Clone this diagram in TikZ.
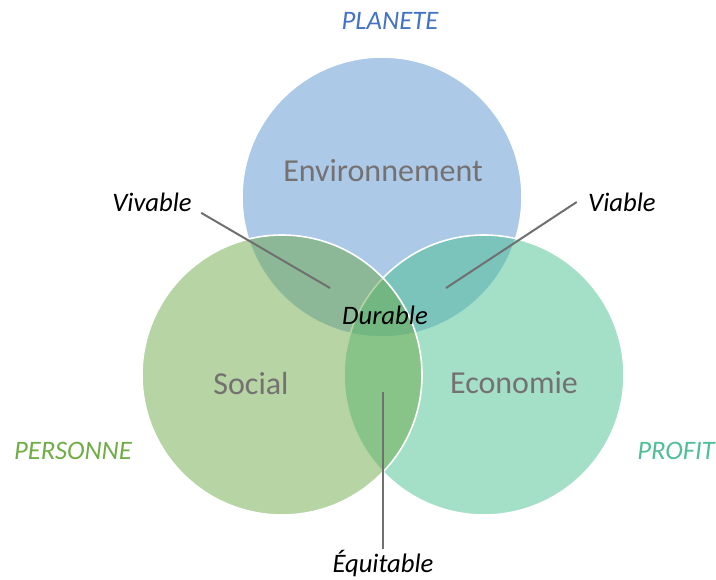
\documentclass[tikz,border=0pt]{standalone}
\usepackage{fontspec}
\setmainfont{Carlito}
\definecolor{bleuCercle}{RGB}{89,147,209}
\definecolor{vertCercle}{RGB}{109,169,73}
\definecolor{tealCercle}{RGB}{73,193,145}
\definecolor{grisTexte}{RGB}{118,113,113}
\definecolor{grisTrait}{RGB}{112,112,112}
\tikzset{every picture/.style={line width=0.75pt}}
\tikzset{
  cercle/.style={circle, draw=white, line width=1.2pt, fill opacity=0.5, minimum size=210pt, inner sep=0pt},
  titreCercle/.style={inner sep=0.75pt, text=grisTexte, font=\fontsize{24}{28}\selectfont},
  etiquette/.style={inner sep=0.75pt, font=\fontsize{20}{24}\selectfont\itshape},
  trait/.style={draw=grisTrait, line width=1.5pt}
}
\begin{document}
\begin{tikzpicture}[x=0.75pt,y=0.75pt,yscale=-1,xscale=1]
\path[use as bounding box] (0,0) rectangle (716,579);

%Circles
\node [cercle, fill=bleuCercle] (env) at (382,197) {};
\node [cercle, fill=tealCercle] (eco) at (484,375) {};
\node [cercle, fill=vertCercle] (soc) at (282,375) {};

% Circle titles
\node [titreCercle] (tEnv) at (383,171) {Environnement};
\node [titreCercle] (tSoc) at (251,383) {Social};
\node [titreCercle] (tEco) at (514,383) {Economie};

% Outer labels
\node [etiquette, text={rgb,255:red,68;green,114;blue,196}] (planete) at (390,21) {PLANETE};
\node [etiquette, text={rgb,255:red,112;green,173;blue,71}] (personne) at (73,451) {PERSONNE};
\node [etiquette, text={rgb,255:red,80;green,190;blue,150}] (profit) at (676,451) {PROFIT};

% Intersection labels
\node [etiquette] (vivable) at (152,202) {Vivable};
\node [etiquette] (viable) at (622,202) {Viable};
\node [etiquette] (durable) at (385,315) {Durable};
\node [etiquette] (equitable) at (383,564) {Équitable};

\coordinate (pVivable) at (330,288);
\coordinate (pViable) at (446,288);
\coordinate (pEquitable) at (383,392);

% Connectors
\draw [trait] ([xshift=6pt]vivable.south east) -- (pVivable);
\draw [trait] ([xshift=-7.5pt]viable.west) -- (pViable);
\draw [trait] (pEquitable) -- (equitable.north);
\end{tikzpicture}
\end{document}
